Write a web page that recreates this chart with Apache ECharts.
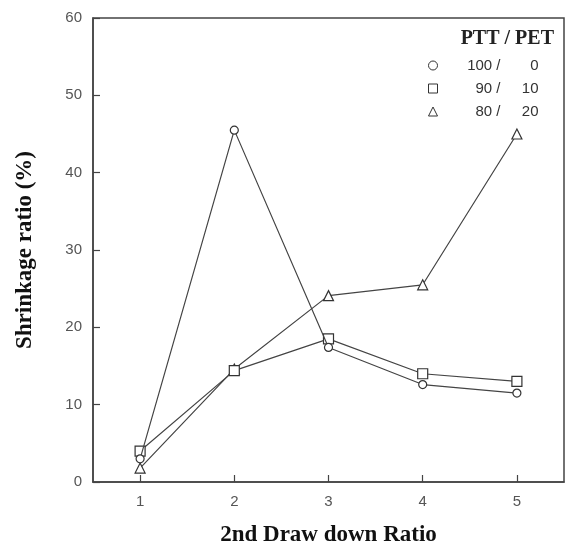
<!DOCTYPE html>
<html>
<head>
<meta charset="utf-8">
<script src="https://cdn.jsdelivr.net/npm/echarts@6/dist/echarts.min.js"></script>
<style>html,body{margin:0;padding:0;background:#fff}#c{width:567px;height:552px}</style>
</head>
<body>
<div id="c"></div>
<script>
var drawRatios = [1, 2, 3, 4, 5];
var xTicks = [1, 2, 3, 4, 5];
var yTicks = [0, 10, 20, 30, 40, 50, 60];
var seriesNames = ['100 / 0', '90 / 10', '80 / 20'];
var ptt100 = [3.0, 45.5, 17.4, 12.6, 11.5];
var ptt90 = [4.0, 14.4, 18.5, 14.0, 13.0];
var ptt80 = [1.8, 14.6, 24.1, 25.5, 45.0];
var legendTitle = 'PTT / PET';
var xTitle = '2nd Draw down Ratio';
var yTitle = 'Shrinkage ratio (%)';

var symbols = ['circle', 'rect', 'triangle'];
var sizes = [8, 10, 10];
var values = [ptt100, ptt90, ptt80];

function pairs(v) { return drawRatios.map(function (x, i) { return [x, v[i]]; }); }

var series = seriesNames.map(function (n, i) {
  return {
    name: n, type: 'line', data: pairs(values[i]),
    symbol: symbols[i], symbolSize: sizes[i],
    showAllSymbol: true,
    lineStyle: { color: '#444', width: 1.2 },
    itemStyle: { color: '#fff', borderColor: '#333', borderWidth: 1.2 },
    z: 3 - i
  };
});

var chart = echarts.init(document.getElementById('c'));
chart.setOption({
  animation: false,
  backgroundColor: '#fff',
  grid: { left: 93, right: 3, top: 18, bottom: 66, show: true, borderColor: '#444', borderWidth: 1.5 },
  title: {
    text: legendTitle, right: 8, top: 24,
    textStyle: { fontFamily: 'Liberation Serif', fontWeight: 'bold', fontSize: 20, color: '#222' }
  },
  legend: {
    orient: 'vertical', left: 423, top: 53, itemGap: 8, itemWidth: 9, itemHeight: 9,
    data: seriesNames.map(function (n, i) {
      return { name: n, icon: symbols[i],
        itemStyle: { color: '#fff', borderColor: '#333', borderWidth: 1 } };
    }),
    formatter: function (n) {
      var p = n.split(' / ');
      return '{l|' + p[0] + ' /}{r|' + p[1] + '}';
    },
    textStyle: {
      fontFamily: 'Liberation Sans', fontSize: 15, color: '#333',
      rich: {
        l: { width: 58, align: 'right', fontFamily: 'Liberation Sans', fontSize: 15, color: '#333' },
        r: { width: 38, align: 'right', fontFamily: 'Liberation Sans', fontSize: 15, color: '#333' }
      }
    }
  },
  xAxis: {
    type: 'value', min: 0.5, max: 5.5, interval: 0.5,
    name: xTitle, nameLocation: 'middle', nameGap: 42,
    nameTextStyle: { fontFamily: 'Liberation Serif', fontWeight: 'bold', fontSize: 23, color: '#111' },
    axisLine: { show: true, lineStyle: { color: '#444', width: 1.5 } },
    axisTick: { show: true, inside: true, length: 7, lineStyle: { color: '#444', width: 1.2 },
      customValues: xTicks },
    axisLabel: { margin: 12, fontFamily: 'Liberation Sans', fontSize: 15, color: '#555',
      customValues: xTicks },
    splitLine: { show: false }
  },
  yAxis: {
    type: 'value', min: 0, max: 60, interval: 10,
    name: yTitle, nameLocation: 'middle', nameGap: 56, nameRotate: 90,
    nameTextStyle: { fontFamily: 'Liberation Serif', fontWeight: 'bold', fontSize: 23, color: '#111' },
    axisLine: { show: true, lineStyle: { color: '#444', width: 1.5 } },
    axisTick: { show: true, inside: true, length: 7, lineStyle: { color: '#444', width: 1.2 },
      customValues: yTicks },
    axisLabel: { margin: 11, fontFamily: 'Liberation Sans', fontSize: 15, color: '#555',
      customValues: yTicks },
    splitLine: { show: false }
  },
  series: series
});
</script>
</body>
</html>
